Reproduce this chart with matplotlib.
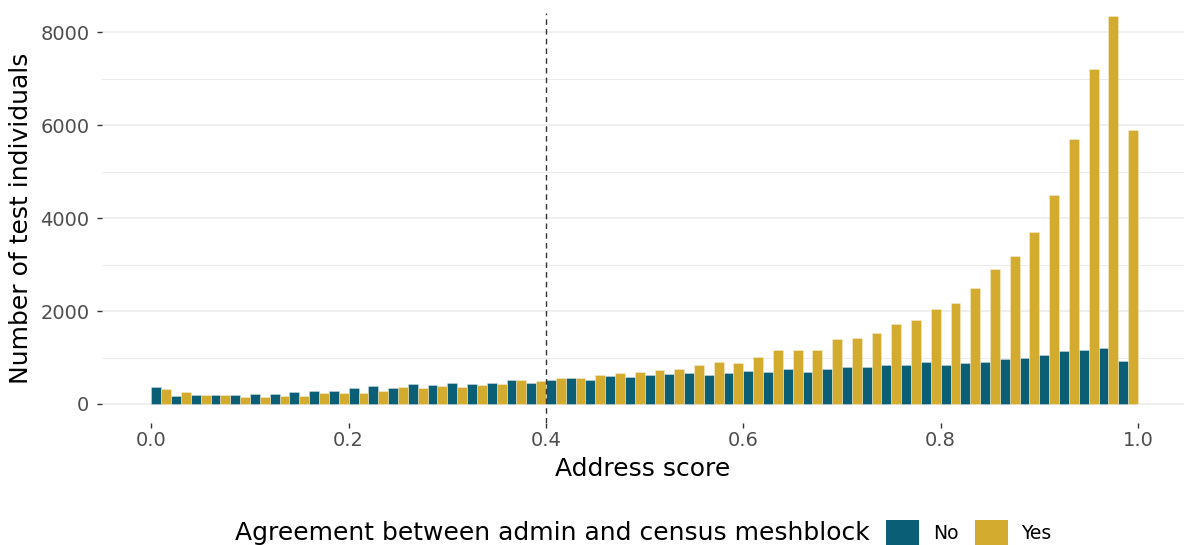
import numpy as np
import matplotlib.pyplot as plt
from matplotlib.patches import Patch

# histogram of address scores, 50 bins of width 0.02 from 0 to 1
bin_edges = np.linspace(0.0, 1.0, 51)
counts_no = [366, 172, 200, 186, 194, 208, 215, 258, 272, 272,
             337, 380, 344, 437, 416, 452, 430, 459, 523, 459,
             523, 559, 509, 595, 581, 623, 652, 660, 631, 660,
             710, 681, 760, 688, 745, 788, 788, 839, 831, 896,
             839, 888, 903, 968, 996, 1054, 1133, 1161, 1197, 931]
counts_yes = [323, 258, 194, 186, 151, 151, 179, 179, 244, 243,
              237, 287, 366, 344, 387, 358, 409, 430, 509, 502,
              559, 566, 623, 659, 681, 738, 745, 831, 910, 882,
              1011, 1168, 1161, 1161, 1398, 1412, 1519, 1720, 1806, 2035,
              2171, 2487, 2896, 3183, 3692, 4500, 5705, 7218, 8349, 5906]
groups = ["No", "Yes"]
threshold = 0.4

col_no = "#0A5E76"
col_yes = "#D3AC2F"

fig = plt.figure(figsize=(11.84, 5.45), dpi=100)
ax = fig.add_axes([102 / 1184, 122 / 545, 1082 / 1184, 410 / 545])

binw = bin_edges[1] - bin_edges[0]
left = bin_edges[:-1]
ax.bar(left + binw / 4, counts_no, width=binw / 2, color=col_no,
       edgecolor=(1, 1, 1, 0.35), linewidth=0.6, zorder=2)
ax.bar(left + 3 * binw / 4, counts_yes, width=binw / 2, color=col_yes,
       edgecolor=(1, 1, 1, 0.35), linewidth=0.6, zorder=2)

ax.axvline(threshold, color="#333333", lw=1.0, dashes=(4, 3), zorder=3)

ax.set_xlim(-0.05, (1184 - 151) / 987)
ax.set_ylim(-409, 8416)

ax.set_xticks([0.0, 0.2, 0.4, 0.6, 0.8, 1.0])
ax.set_xticklabels(["0.0", "0.2", "0.4", "0.6", "0.8", "1.0"])
ax.set_yticks([0, 2000, 4000, 6000, 8000])
ax.set_yticks([1000, 3000, 5000, 7000], minor=True)

ax.grid(axis="y", which="major", color="#EBEBEB", lw=1.1, zorder=0)
ax.grid(axis="y", which="minor", color="#EBEBEB", lw=0.7, zorder=0)
ax.tick_params(axis="both", which="major", labelsize=14, labelcolor="#4D4D4D",
               color="#333333", length=3.5, width=1.0)
ax.tick_params(axis="x", pad=2.5)
ax.tick_params(axis="y", pad=5.5)
ax.tick_params(axis="y", which="minor", length=0)
for s in ax.spines.values():
    s.set_visible(False)

ax.set_xlabel("Address score", fontsize=18, labelpad=5)
ax.set_ylabel("Number of test individuals", fontsize=18, labelpad=5)

# legend at bottom, title on the left of the keys
fig.text(235 / 1184, (545 - 533) / 545, "Agreement between admin and census meshblock",
         fontsize=18, ha="left", va="center")
handles = [Patch(facecolor=col_no, edgecolor="none"),
           Patch(facecolor=col_yes, edgecolor="none")]
fig.legend(handles, groups, loc="center left",
           bbox_to_anchor=(886 / 1184, (545 - 533) / 545), ncol=2, frameon=False,
           fontsize=13.5, handlelength=1.76, handleheight=1.76,
           handletextpad=0.75, columnspacing=0.85, borderpad=0, borderaxespad=0)

fig.savefig("out.png", dpi=100)
